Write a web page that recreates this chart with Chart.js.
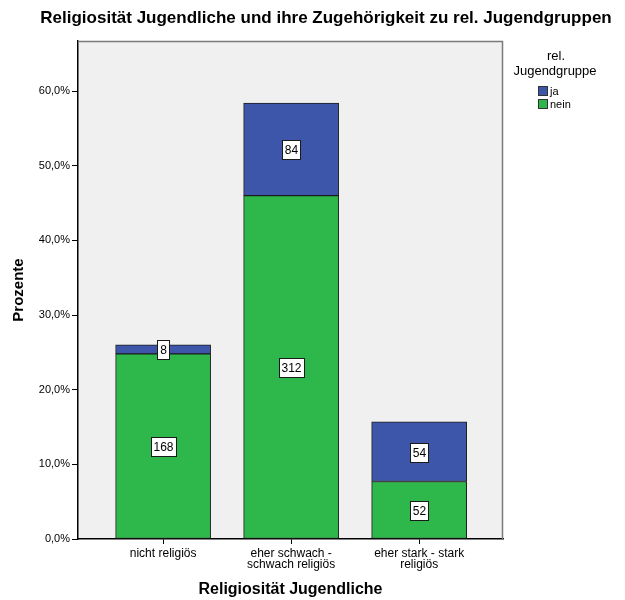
<!DOCTYPE html>
<html>
<head>
<meta charset="utf-8">
<script src="https://cdn.jsdelivr.net/npm/chart.js@4"></script>
<style>
  html, body { margin: 0; padding: 0; background: #ffffff; }
  #wrap { width: 625px; height: 600px; position: relative; }
</style>
</head>
<body>
<div id="wrap"><canvas id="c" width="625" height="600"></canvas></div>
<script>
// ---- data ----
const categories = [["nicht religiös"], ["eher schwach -", "schwach religiös"], ["eher stark - stark", "religiös"]];
const seriesNames = ["ja", "nein"];
const neinPercent = [24.8, 46.0, 7.7];
const jaPercent = [1.2, 12.4, 8.0];
const neinCounts = [168, 312, 52];
const jaCounts = [8, 84, 54];
const yTickValues = [0, 10, 20, 30, 40, 50, 60];

const chartTitle = "Religiosität Jugendliche und ihre Zugehörigkeit zu rel. Jugendgruppen";
const xTitle = "Religiosität Jugendliche";
const yTitle = "Prozente";
const legendTitle = ["rel.", "Jugendgruppe"];

const colJa = "#3e56a9";
const colNein = "#2eb74a";
const FONT = "'Liberation Sans', Arial, sans-serif";

const pts = (arr) => arr.map((v, i) => ({ x: i, y: v }));

const overlayPlugin = {
  id: 'overlay',
  beforeDraw(chart) {
    const { ctx, chartArea: a } = chart;
    ctx.save();
    ctx.fillStyle = '#f0f0f0';
    ctx.fillRect(a.left, a.top, a.right - a.left, a.bottom - a.top);
    ctx.restore();
  },
  afterDatasetsDraw(chart) {
    const { ctx, chartArea: a } = chart;
    ctx.save();
    // plot frame (top/right grey)
    ctx.strokeStyle = '#7a7a7a';
    ctx.lineWidth = 1.5;
    ctx.beginPath();
    ctx.moveTo(a.left, a.top + 0.5);
    ctx.lineTo(a.right - 0.5, a.top + 0.5);
    ctx.lineTo(a.right - 0.5, a.bottom);
    ctx.stroke();

    // value labels
    ctx.font = "12px " + FONT;
    ctx.textAlign = 'center';
    ctx.textBaseline = 'middle';
    const countSets = [neinCounts, jaCounts];
    chart.data.datasets.forEach((ds, di) => {
      const meta = chart.getDatasetMeta(di);
      meta.data.forEach((el, i) => {
        const txt = String(countSets[di][i]);
        const cx = Math.round(el.x);
        const cy = Math.round((el.y + el.base) / 2);
        const w = Math.round(ctx.measureText(txt).width + 5);
        const h = 19;
        const x0 = Math.round(cx - w / 2), y0 = Math.round(cy - h / 2);
        ctx.fillStyle = '#ffffff';
        ctx.fillRect(x0, y0, w, h);
        ctx.strokeStyle = '#1a1a1a';
        ctx.lineWidth = 1;
        ctx.strokeRect(x0 + 0.5, y0 + 0.5, w, h);
        ctx.fillStyle = '#000000';
        ctx.fillText(txt, cx + 0.5, cy + 1.5);
      });
    });

    // chart title
    ctx.font = "bold 17px " + FONT;
    ctx.fillStyle = '#000000';
    ctx.textAlign = 'center';
    ctx.textBaseline = 'middle';
    ctx.fillText(chartTitle, 326, 18);

    // legend
    ctx.font = "13px " + FONT;
    ctx.fillStyle = '#000000';
    ctx.fillText(legendTitle[0], 556, 56);
    ctx.fillText(legendTitle[1], 555, 71);
    ctx.font = "11px " + FONT;
    const items = [[seriesNames[0], colJa], [seriesNames[1], colNein]];
    items.forEach((it, k) => {
      const y = 86 + k * 13;
      ctx.fillStyle = it[1];
      ctx.fillRect(538, y, 10, 10);
      ctx.strokeStyle = '#333333';
      ctx.lineWidth = 1;
      ctx.strokeRect(538.5, y + 0.5, 9, 9);
      ctx.fillStyle = '#000000';
      ctx.textAlign = 'left';
      ctx.fillText(it[0], 550, y + 5.5);
    });
    ctx.restore();
  }
};

new Chart(document.getElementById('c'), {
  type: 'bar',
  data: {
    datasets: [
      { label: seriesNames[1], data: pts(neinPercent), backgroundColor: colNein, borderColor: '#1c1c1c', borderWidth: 1, borderSkipped: false, barThickness: 95 },
      { label: seriesNames[0], data: pts(jaPercent), backgroundColor: colJa, borderColor: '#1c1c1c', borderWidth: 1, borderSkipped: false, barThickness: 95 }
    ]
  },
  options: {
    responsive: false,
    animation: false,
    devicePixelRatio: 1,
    layout: { padding: { left: 10, right: 122, top: 41, bottom: 0 } },
    plugins: {
      legend: { display: false },
      title: { display: false },
      tooltip: { enabled: false }
    },
    scales: {
      x: {
        type: 'linear',
        stacked: true,
        offset: false,
        min: -0.665,
        max: 2.655,
        afterBuildTicks(scale) { scale.ticks = categories.map((c, i) => ({ value: i })); },
        afterFit(scale) { scale.height = 61; },
        ticks: {
          autoSkip: false,
          maxRotation: 0,
          padding: 4,
          color: '#000000',
          font: { family: FONT, size: 12, lineHeight: 0.95 },
          callback: (v) => categories[v]
        },
        grid: { display: true, offset: false, drawOnChartArea: false, drawTicks: true, tickLength: 5, color: '#000000', lineWidth: 1 },
        border: { display: true, color: '#000000', width: 1.5 },
        title: { display: true, text: xTitle, color: '#000000', font: { family: FONT, size: 16, weight: 'bold' }, padding: { top: 6, bottom: 1 } }
      },
      y: {
        stacked: true,
        min: 0,
        max: 66.7,
        afterBuildTicks(scale) { scale.ticks = yTickValues.map(v => ({ value: v })); },
        afterFit(scale) { scale.width = 68; },
        ticks: {
          padding: 2,
          color: '#000000',
          font: { family: FONT, size: 11 },
          callback: (v) => v.toFixed(1).replace('.', ',') + '%'
        },
        grid: { display: true, drawOnChartArea: false, drawTicks: true, tickLength: 6, color: '#000000', lineWidth: 1 },
        border: { display: true, color: '#000000', width: 1.5 },
        title: { display: true, text: yTitle, color: '#000000', font: { family: FONT, size: 15, weight: 'bold' }, padding: { top: 0, bottom: 8 } }
      }
    }
  },
  plugins: [overlayPlugin]
});
</script>
</body>
</html>
